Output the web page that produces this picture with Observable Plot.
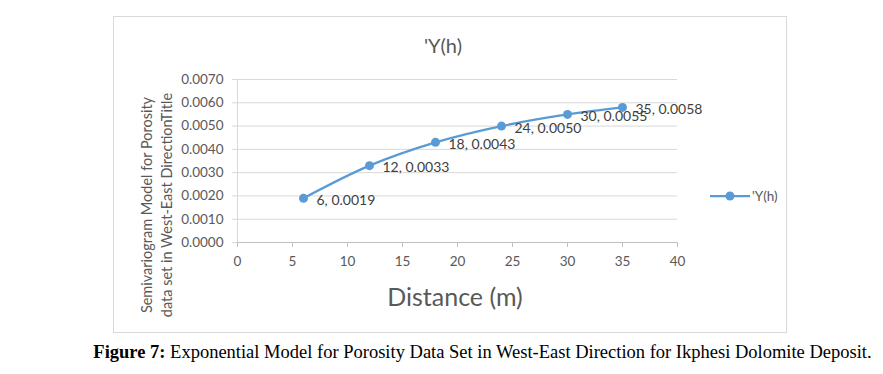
<!DOCTYPE html>
<html>
<head>
<meta charset="utf-8">
<script src="https://cdn.jsdelivr.net/npm/d3@7"></script>
<script src="https://cdn.jsdelivr.net/npm/@observablehq/plot@0.6"></script>
<style>
  html, body { margin: 0; padding: 0; background: #fff; }
  #wrap { position: relative; width: 883px; height: 374px; overflow: hidden; }
  #frame { position: absolute; left: 113px; top: 16px; width: 672px; height: 315px; border: 1.5px solid #d9d9d9; }
  #chart { position: absolute; left: 0; top: 0; }
  .t { position: absolute; font-family: Lato, sans-serif; color: #595959; white-space: nowrap; }
  #title { left: 0; width: 886px; top: 33px; text-align: center; font-size: 20px; }
  #xtitle { left: 0; width: 910px; top: 281px; text-align: center; font-size: 25px; }
  #ytitle { left: 157px; top: 205px; width: 0; height: 0; }
  #ytitle div { position: absolute; transform: translate(-50%, -50%) rotate(-90deg); text-align: center; font-size: 14.5px; line-height: 20px; }
  #legend { left: 708px; top: 186px; font-size: 13.5px; display: flex; align-items: center; }
  #caption { position: absolute; left: 0; width: 965px; top: 342px; text-align: center; font-family: "Liberation Serif", "Times New Roman", serif; font-size: 18.5px; color: #000; white-space: nowrap; }
</style>
</head>
<body>
<div id="wrap">
  <div id="frame"></div>
  <div id="chart"></div>
  <div class="t" id="title"></div>
  <div class="t" id="xtitle"></div>
  <div class="t" id="ytitle"><div id="ytext"></div></div>
  <div class="t" id="legend"></div>
  <div id="caption"></div>
</div>
<script>
// ---- data ----
const distance = [6, 12, 18, 24, 30, 35];
const gamma = [0.0019, 0.0033, 0.0043, 0.0050, 0.0055, 0.0058];
const xTicks = [0, 5, 10, 15, 20, 25, 30, 35, 40];
const yTicks = [0, 0.001, 0.002, 0.003, 0.004, 0.005, 0.006, 0.007];
const seriesName = "'Y(h)";
const chartTitle = "'Y(h)";
const xTitle = "Distance (m)";
const yTitleLines = ["Semivariogram Model for Porosity", "data set in West-East DirectionTitle"];
const captionBold = "Figure 7:";
const captionText = " Exponential Model for Porosity Data Set in West-East Direction for Ikphesi Dolomite Deposit.";

const data = distance.map((d, i) => ({d, g: gamma[i], label: `${d}, ${gamma[i].toFixed(4)}`}));
const blue = "#5b9bd5";

const plot = Plot.plot({
  width: 883,
  height: 340,
  marginLeft: 237,
  marginRight: 206,
  marginTop: 79,
  marginBottom: 98,
  style: {fontFamily: "Lato, sans-serif", color: "#595959", background: "transparent", overflow: "visible"},
  x: {domain: [0, 40], ticks: xTicks},
  y: {domain: [0, 0.007], ticks: yTicks},
  marks: [
    Plot.gridY(yTicks, {stroke: "#d9d9d9", strokeOpacity: 1}),
    Plot.ruleX([0], {stroke: "#d9d9d9", strokeWidth: 1}),
    Plot.axisY(yTicks, {tickSize: 5, tickPadding: 9, tickFormat: d3.format(".4f"), fontSize: 13.5, stroke: "#d9d9d9", fill: "#595959", label: null}),
    Plot.ruleY([0], {stroke: "#bfbfbf", strokeWidth: 1}),
    Plot.axisX(xTicks, {tickSize: 5, tickPadding: 9, fontSize: 13.5, stroke: "#bfbfbf", fill: "#595959", label: null}),
    Plot.line(data, {x: "d", y: "g", stroke: blue, strokeWidth: 2.25, curve: "catmull-rom"}),
    Plot.dot(data, {x: "d", y: "g", r: 4.5, fill: blue, stroke: "none"}),
    Plot.text(data, {x: "d", y: "g", text: "label", textAnchor: "start", dx: 13, dy: 2, fontSize: 14, fill: "#404040"})
  ]
});
document.getElementById("chart").appendChild(plot);

document.getElementById("title").textContent = chartTitle;
document.getElementById("xtitle").textContent = xTitle;
document.getElementById("ytext").innerHTML = yTitleLines.join("<br>");
document.getElementById("caption").innerHTML = `<b>${captionBold}</b>${captionText}`;

// legend
const lg = d3.select("#legend");
const ls = lg.append("svg").attr("width", 44).attr("height", 20);
ls.append("line").attr("x1", 2).attr("x2", 42).attr("y1", 10).attr("y2", 10).attr("stroke", blue).attr("stroke-width", 2.25);
ls.append("circle").attr("cx", 22).attr("cy", 10).attr("r", 4.5).attr("fill", blue);
lg.append("span").text(seriesName);
</script>
</body>
</html>
